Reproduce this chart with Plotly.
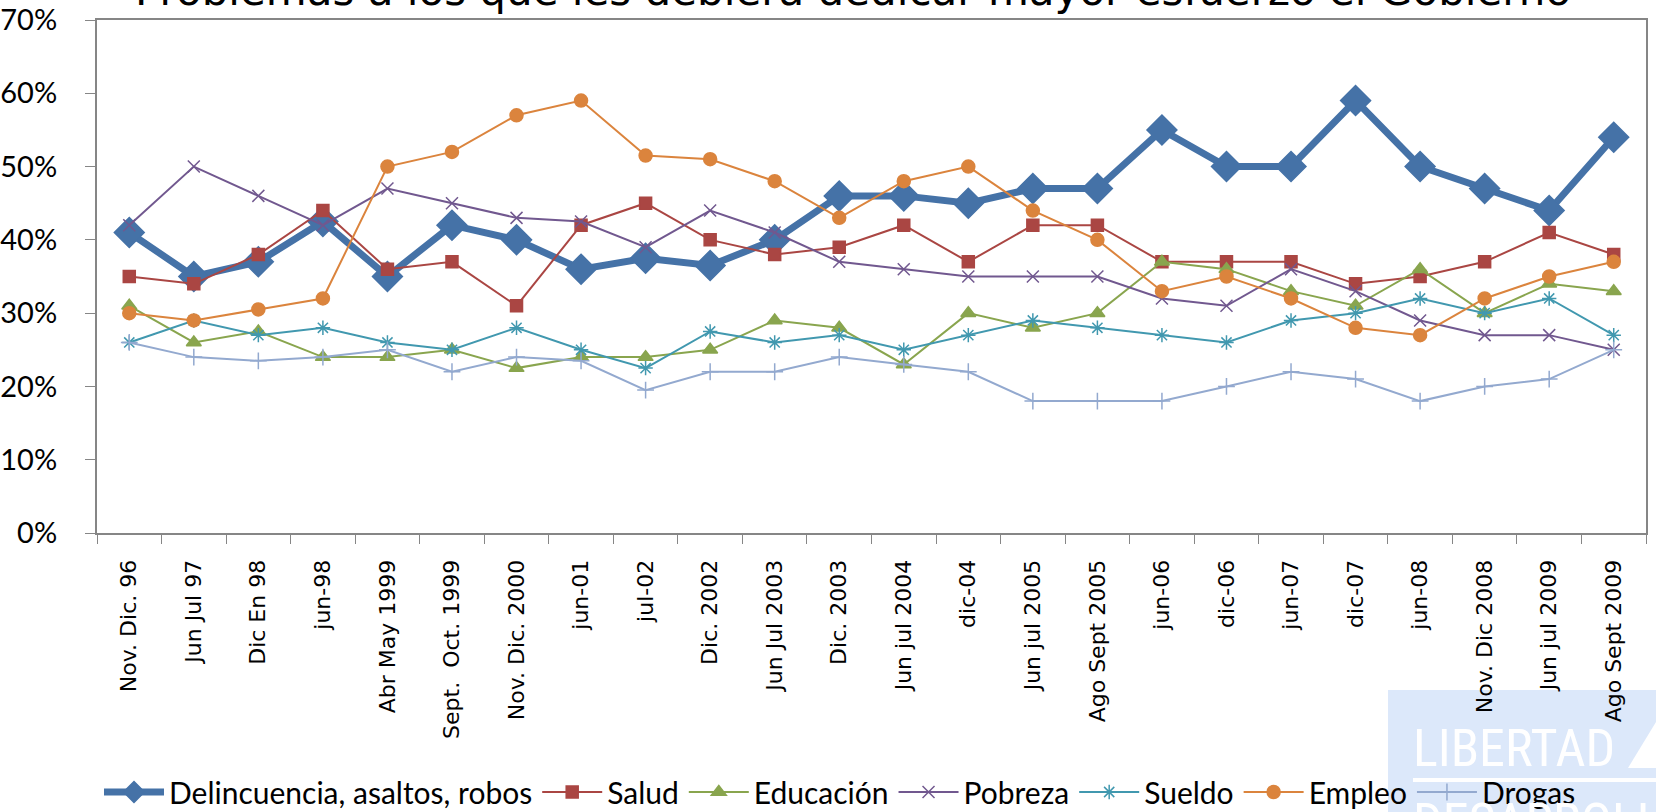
import plotly.graph_objects as go

categories = ["Nov. Dic. 96", "Jun Jul 97", "Dic En 98", "jun-98", "Abr May 1999",
              "Sept.  Oct. 1999", "Nov. Dic. 2000", "jun-01", "jul-02", "Dic. 2002",
              "Jun Jul 2003", "Dic. 2003", "Jun jul 2004", "dic-04", "Jun jul 2005",
              "Ago Sept 2005", "jun-06", "dic-06", "jun-07", "dic-07", "jun-08",
              "Nov. Dic 2008", "Jun jul 2009", "Ago Sept 2009"]

delincuencia = [41, 35, 37, 42.5, 35, 42, 40, 36, 37.5, 36.5, 40, 46, 46, 45, 47, 47, 55, 50, 50, 59, 50, 47, 44, 54]
salud = [35, 34, 38, 44, 36, 37, 31, 42, 45, 40, 38, 39, 42, 37, 42, 42, 37, 37, 37, 34, 35, 37, 41, 38]
educacion = [31, 26, 27.5, 24, 24, 25, 22.5, 24, 24, 25, 29, 28, 23, 30, 28, 30, 37, 36, 33, 31, 36, 30, 34, 33]
pobreza = [42, 50, 46, 42, 47, 45, 43, 42.5, 39, 44, 41, 37, 36, 35, 35, 35, 32, 31, 36, 33, 29, 27, 27, 25]
sueldo = [26, 29, 27, 28, 26, 25, 28, 25, 22.5, 27.5, 26, 27, 25, 27, 29, 28, 27, 26, 29, 30, 32, 30, 32, 27]
empleo = [30, 29, 30.5, 32, 50, 52, 57, 59, 51.5, 51, 48, 43, 48, 50, 44, 40, 33, 35, 32, 28, 27, 32, 35, 37]
drogas = [26, 24, 23.5, 24, 25, 22, 24, 23.5, 19.5, 22, 22, 24, 23, 22, 18, 18, 18, 20, 22, 21, 18, 20, 21, 25]

title_text = "Problemas a los que les debiera dedicar mayor esfuerzo el Gobierno"

series = [
    ("Delincuencia, asaltos, robos", delincuencia, "#4572A7", 7, "diamond", 23),
    ("Salud", salud, "#AA4643", 2, "square", 12),
    ("Educación", educacion, "#89A54E", 2, "triangle-up", 13),
    ("Pobreza", pobreza, "#71588F", 2, "x-thin-open", 12),
    ("Sueldo", sueldo, "#4198AF", 2, "asterisk-open", 12),
    ("Empleo", empleo, "#DB843D", 2, "circle", 13),
    ("Drogas", drogas, "#93A9CF", 2, "cross-thin-open", 12),
]

narrow = "Roboto Condensed, Liberation Sans Narrow, Arial Narrow, Roboto, sans-serif"
calib = "Lato, Open Sans, sans-serif"

fig = go.Figure()
for name, vals, color, lw, sym, ms in series:
    fig.add_trace(go.Scatter(
        x=categories, y=[v / 100 for v in vals], name=name, mode="lines+markers",
        line=dict(color=color, width=lw),
        marker=dict(symbol=sym, size=ms, color=color, line=dict(color=color, width=1.5)),
    ))

L, R, T, B = 97, 10, 20, 279
W, H = 1656, 812
pw, ph = W - L - R, H - T - B

def px_x(x):
    return (x - L) / pw

def px_y(y):
    return (H - B - y) / ph

shapes = [
    dict(type="rect", xref="paper", yref="paper", x0=px_x(1388), x1=px_x(1660),
         y0=px_y(690), y1=px_y(815), fillcolor="#DCE8FA", line=dict(width=0), layer="below"),
    dict(type="line", xref="paper", yref="paper", x0=px_x(1413), x1=px_x(1660),
         y0=px_y(780), y1=px_y(780), line=dict(color="white", width=4), layer="below"),
    dict(type="path", xref="paper", yref="paper",
         path=f"M {px_x(1628)},{px_y(768)} L {px_x(1656)},{px_y(722)} L {px_x(1660)},{px_y(768)} Z",
         fillcolor="white", line=dict(width=0), layer="below"),
]

annotations = [
    dict(text=title_text, xref="paper", yref="paper", x=px_x(853), y=px_y(-9),
         xanchor="center", yanchor="middle", showarrow=False,
         font=dict(family="DejaVu Sans", size=42, color="black")),
    dict(text="LIBERTAD", xref="paper", yref="paper", x=px_x(1411), y=px_y(748),
         xanchor="left", yanchor="middle", showarrow=False,
         font=dict(family=narrow, size=52, color="white")),
    dict(text="DESARROLLO", xref="paper", yref="paper", x=px_x(1411), y=px_y(822),
         xanchor="left", yanchor="middle", showarrow=False,
         font=dict(family=narrow, size=52, color="white")),
]

fig.update_layout(
    width=W, height=H,
    margin=dict(l=L, r=R, t=T, b=B, autoexpand=False),
    paper_bgcolor="white", plot_bgcolor="white",
    showlegend=True,
    legend=dict(orientation="h", x=px_x(840), xanchor="center", y=px_y(792), yanchor="middle",
                font=dict(family=calib, size=30, color="black"), itemwidth=60,
                bgcolor="rgba(0,0,0,0)", tracegroupgap=0, traceorder="normal"),
    shapes=shapes,
    annotations=annotations,
)

fig.update_xaxes(
    type="category", tickangle=-90, tickson="boundaries", ticks="outside", ticklen=9,
    tickcolor="#868686", showline=True, linecolor="#868686", linewidth=2, mirror=True,
    showgrid=False, tickfont=dict(family="DejaVu Sans", size=22, color="black"),
    ticklabelstandoff=16, automargin=False,
    range=[-0.5, len(categories) - 0.5],
)
fig.update_yaxes(
    range=[0, 0.7], dtick=0.1, tickformat=".0%", ticks="outside", ticklen=10,
    tickcolor="#868686", showline=True, linecolor="#868686", linewidth=2, mirror=True,
    showgrid=False, zeroline=False, tickfont=dict(family=calib, size=29, color="black"),
    ticklabelstandoff=22, automargin=False,
)

fig.write_html("out.html", config={"displayModeBar": False},
               post_script="document.body.style.margin='0';document.body.style.overflow='hidden';")
